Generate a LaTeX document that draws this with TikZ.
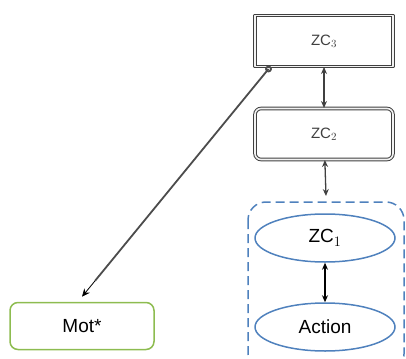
\documentclass[tikz,border=0pt]{standalone}
\usepackage{fontspec}
\setmainfont{Liberation Sans}
\usetikzlibrary{shapes.geometric,calc,arrows.meta}
\definecolor{zcblue}{RGB}{79,129,189}
\definecolor{motgreen}{RGB}{141,188,80}
\tikzset{
  zonebox/.style={draw=gray!50!black,double=gray!10,double distance=1.6pt,line width=1pt,
    minimum width=138pt,minimum height=51pt,font=\fontsize{15}{17}\selectfont,text=gray!50!black},
  zoneell/.style={ellipse,draw=zcblue,line width=1.5pt,minimum width=140pt,minimum height=48pt,
    font=\fontsize{19}{22}\selectfont},
  linkarrow/.style={{Stealth[length=7pt,width=6pt]}-{Stealth[length=7pt,width=6pt]},line width=1.3pt},
}
\begin{document}
\begin{tikzpicture}[x=1pt,y=-1pt,line join=round]
  \useasboundingbox (0,0) rectangle (406,358);
  % upper zones
  \node[zonebox] (zcthree) at (324,41) {ZC$_3$};
  \node[zonebox,rounded corners=6pt] (zctwo) at (324,134) {ZC$_2$};
  % lower group
  \draw[zcblue,dashed,dash pattern=on 9pt off 5pt,line width=1.5pt,rounded corners=18pt]
    (248,202) rectangle (404,372);
  \node[zoneell] (zcone) at (325,238) {ZC$_1$};
  \node[zoneell] (action) at (325,327) {Action};
  \node[draw=motgreen,line width=1.5pt,rounded corners=8pt,minimum width=144pt,minimum height=47pt,
    font=\fontsize{19}{22}\selectfont] (mot) at (82,326) {Mot*};
  % links
  \draw[linkarrow,gray!50!black] (zcthree) -- (zctwo);
  \coordinate (groupTop) at (326,196);
  \draw[linkarrow,gray!50!black] (zctwo) -- (groupTop);
  \draw[linkarrow,black] (zcone) -- (action);
  \coordinate (start) at ($(zcthree.south west)+(14,2)$);
  \coordinate (tip) at ($(mot.north)+(0,-5)$);
  \coordinate (mid) at ($(start)!0.93!(tip)$);
  \draw[gray!60!black,line width=1.8pt] (start) circle (2.5pt);
  \draw[gray!60!black,line width=1.8pt] (start) -- (mid);
  \draw[-{Stealth[length=8pt,width=7pt]},line width=0.8pt] (mid) -- (tip);
\end{tikzpicture}
\end{document}
